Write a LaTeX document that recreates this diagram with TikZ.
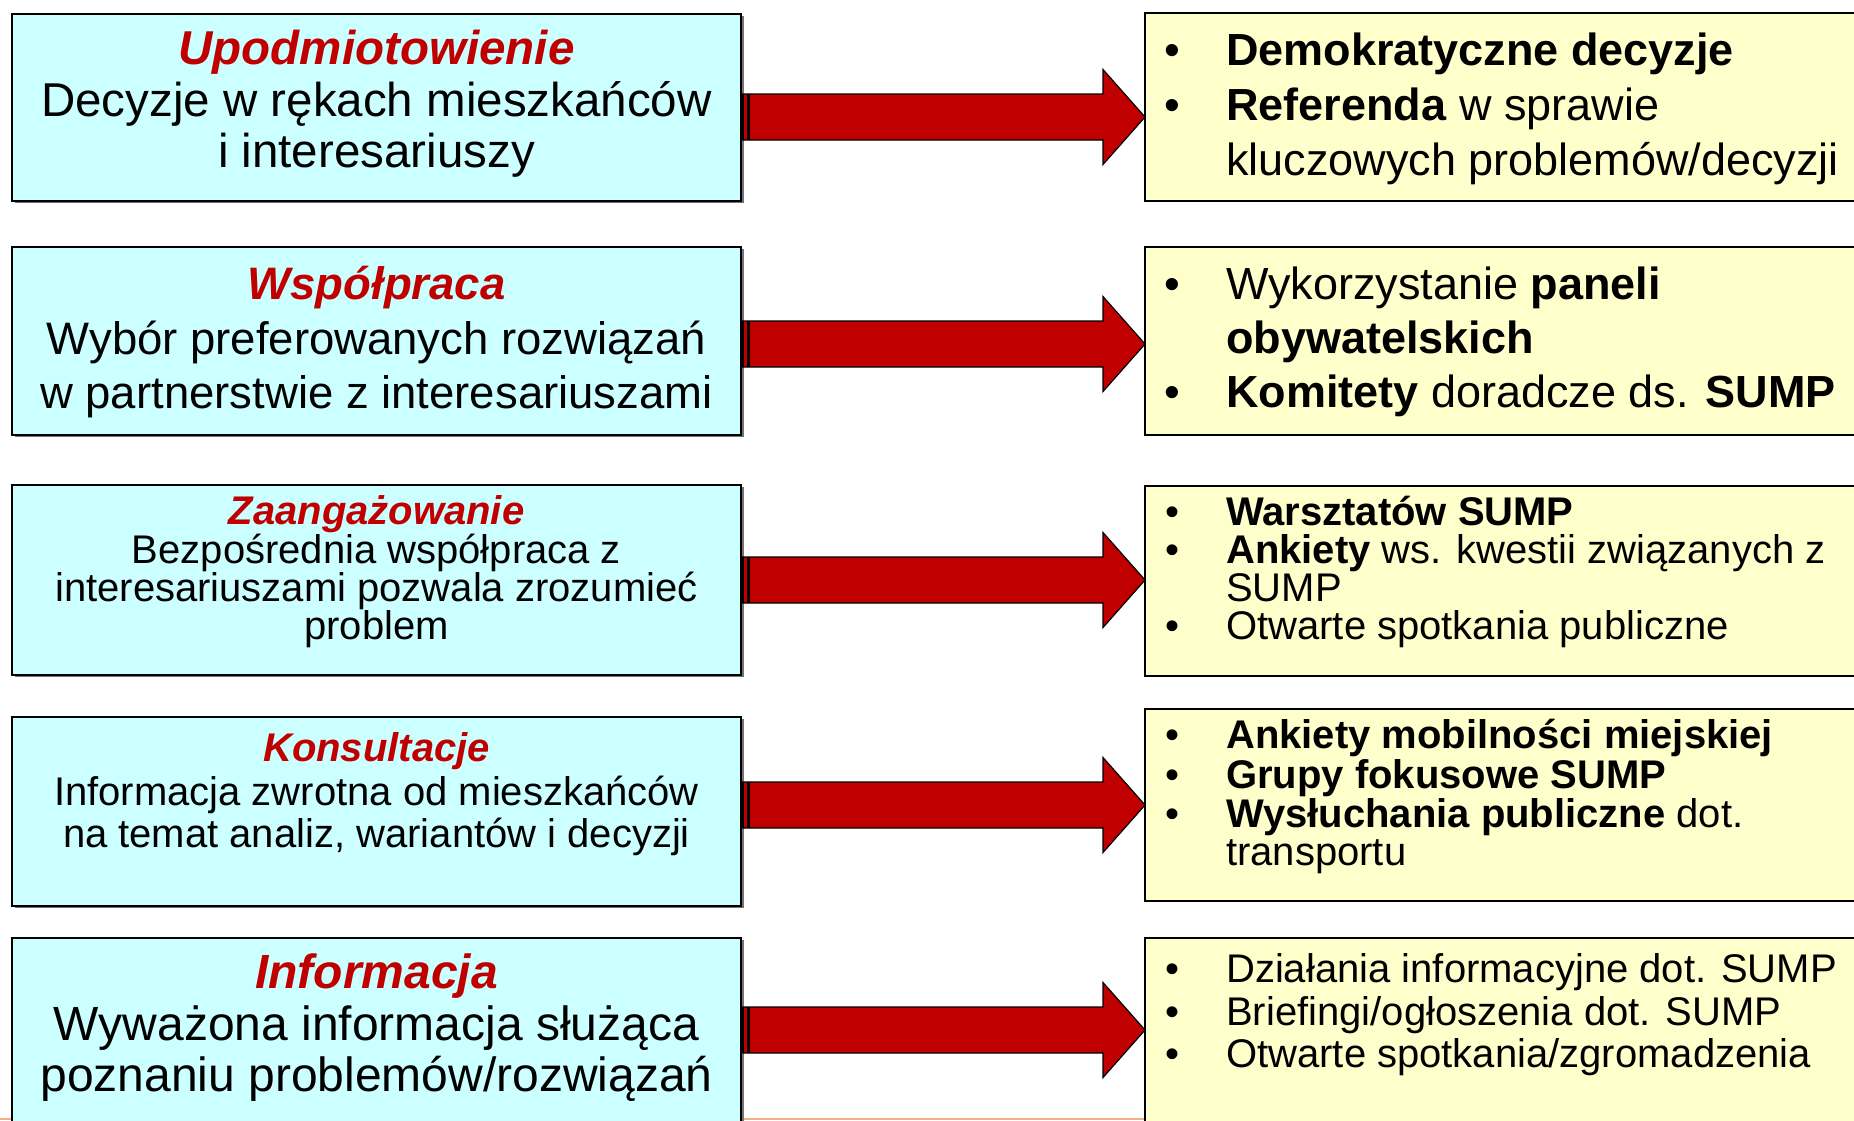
\documentclass[tikz,border=0pt]{standalone}
\usepackage{fontspec}
\setmainfont{Liberation Sans}
\usetikzlibrary{calc,shadows}
\definecolor{lcyan}{HTML}{CCFFFF}
\definecolor{lyellow}{HTML}{FFFFCC}
\definecolor{tred}{HTML}{C00000}
\definecolor{bline}{HTML}{F4B183}
\newcommand{\fsA}{\fontsize{47.5pt}{52pt}\selectfont}
\newcommand{\fsB}{\fontsize{45.5pt}{54pt}\selectfont}
\newcommand{\fsC}{\fontsize{40pt}{38pt}\selectfont}
\newcommand{\fsD}{\fontsize{48pt}{52pt}\selectfont}
\newcommand{\fsR}{\fontsize{45pt}{53pt}\selectfont}
\newcommand{\blkarrow}[2]{%
  \path[arrowbody] let \p1=(#1), \p2=(#2) in
    (\x1,\y1+23pt) -- (\x2-42pt,\y1+23pt) -- (\x2-42pt,\y1+47.5pt) -- (\x2,\y1)
    -- (\x2-42pt,\y1-47.5pt) -- (\x2-42pt,\y1-23pt) -- (\x1,\y1-23pt) -- cycle;
  \fill[black] let \p1=(#1) in (\x1,\y1-23pt) rectangle (\x1+3pt,\y1+23pt);
  \fill[black] let \p1=(#1) in (\x1+6pt,\y1-23pt) rectangle (\x1+9pt,\y1+23pt);
}
\tikzset{
  lbox/.style={draw=black, line width=2pt, fill=lcyan, inner sep=0pt, outer sep=0pt,
    drop shadow={shadow xshift=3pt, shadow yshift=-2pt, fill=black!55, opacity=1}},
  rbox/.style={draw=black, line width=2pt, fill=lyellow, inner sep=0pt, outer sep=0pt},
  ttl/.style={anchor=base, inner sep=0pt, text=tred, font=\bfseries\itshape},
  ctxt/.style={anchor=base, inner sep=0pt},
  bul/.style={anchor=base, inner sep=0pt},
  rtxt/.style={anchor=base west, inner sep=0pt},
  arrowbody/.style={fill=tred, draw=black, line width=1.2pt, line join=miter}
}
\begin{document}
\begin{tikzpicture}[x=1pt,y=-1pt]
\useasboundingbox (0,0) rectangle (1854,1120);
\fill[white] (0,0) rectangle (1854,1120);
\draw[bline, line width=2pt] (0,1119) -- (1854,1119);

% left boxes
\node[lbox, minimum width=729pt, minimum height=187pt] (l1) at (376.5,107.5) {};
\node[lbox, minimum width=729pt, minimum height=188pt] (l2) at (376.5,341) {};
\node[lbox, minimum width=729pt, minimum height=190pt] (l3) at (376.5,580) {};
\node[lbox, minimum width=729pt, minimum height=189pt] (l4) at (376.5,811.5) {};
\node[lbox, minimum width=729pt, minimum height=200pt] (l5) at (376.5,1038) {};

% right boxes
\node[rbox, minimum width=725pt, minimum height=188pt] (r1) at (1507.5,107) {};
\node[rbox, minimum width=725pt, minimum height=188pt] (r2) at (1507.5,341) {};
\node[rbox, minimum width=725pt, minimum height=190pt] (r3) at (1507.5,581) {};
\node[rbox, minimum width=725pt, minimum height=192pt] (r4) at (1507.5,805) {};
\node[rbox, minimum width=725pt, minimum height=200pt] (r5) at (1507.5,1038) {};

% arrows
\coordinate (a1s) at (l1.east |- 0,117);  \coordinate (a1e) at (r1.west |- 0,117);
\coordinate (a2s) at (l2.east |- 0,344);  \coordinate (a2e) at (r2.west |- 0,344);
\coordinate (a3s) at (l3.east |- 0,580);  \coordinate (a3e) at (r3.west |- 0,580);
\coordinate (a4s) at (l4.east |- 0,805);  \coordinate (a4e) at (r4.west |- 0,805);
\coordinate (a5s) at (l5.east |- 0,1030); \coordinate (a5e) at (r5.west |- 0,1030);
\blkarrow{a1s}{a1e}
\blkarrow{a2s}{a2e}
\blkarrow{a3s}{a3e}
\blkarrow{a4s}{a4e}
\blkarrow{a5s}{a5e}

% left texts
\node[ttl, font=\fsA\bfseries\itshape] (t1a) at (376.5,64) {Upodmiotowienie};
\node[ctxt, font=\fsA] (t1b) at (376.5,116) {Decyzje w rękach mieszkańców};
\node[ctxt, font=\fsA] (t1c) at (376.5,167) {i interesariuszy};

\node[ttl, font=\fsB\bfseries\itshape] (t2a) at (376.5,299) {Współpraca};
\node[ctxt, font=\fsB] (t2b) at (376.5,354) {Wybór preferowanych rozwiązań};
\node[ctxt, font=\fsB] (t2c) at (376.5,408) {w partnerstwie z interesariuszami};

\node[ttl, font=\fsC\bfseries\itshape] (t3a) at (376.5,524) {Zaangażowanie};
\node[ctxt, font=\fsC] (t3b) at (376.5,563) {Bezpośrednia współpraca z};
\node[ctxt, font=\fsC] (t3c) at (376.5,601) {interesariuszami pozwala zrozumieć};
\node[ctxt, font=\fsC] (t3d) at (376.5,639) {problem};

\node[ttl, font=\fsC\bfseries\itshape] (t4a) at (376.5,761) {Konsultacje};
\node[ctxt, font=\fsC] (t4b) at (376.5,805) {Informacja zwrotna od mieszkańców};
\node[ctxt, font=\fsC] (t4c) at (376.5,847) {na temat analiz, wariantów i decyzji};

\node[ttl, font=\fsD\bfseries\itshape] (t5a) at (376.5,988) {Informacja};
\node[ctxt, font=\fsD] (t5b) at (376.5,1040) {Wyważona informacja służąca};
\node[ctxt, font=\fsD] (t5c) at (376.5,1091) {poznaniu problemów/rozwiązań};

% right texts
\node[bul, font=\fsR] (b1a) at (1172,65) {•};
\node[rtxt, font=\fsR] (s1a) at (1226,65) {\textbf{Demokratyczne decyzje}};
\node[bul, font=\fsR] (b1b) at (1172,120.5) {•};
\node[rtxt, font=\fsR] (s1b) at (1226,120.5) {\textbf{Referenda} w sprawie};
\node[rtxt, font=\fsR] (s1c) at (1226,175) {kluczowych problemów/decyzji};

\node[bul, font=\fsR] (b2a) at (1172,299.5) {•};
\node[rtxt, font=\fsR] (s2a) at (1226,299.5) {Wykorzystanie \textbf{paneli}};
\node[rtxt, font=\fsR] (s2b) at (1226,353.5) {\textbf{obywatelskich}};
\node[bul, font=\fsR] (b2b) at (1172,407.5) {•};
\node[rtxt, font=\fsR] (s2c) at (1226,407.5) {\textbf{Komitety} doradcze ds. \textbf{SUMP}};

\node[bul, font=\fsC] (b3a) at (1172,525.5) {•};
\node[rtxt, font=\fsC] (s3a) at (1226,525.5) {\textbf{Warsztatów SUMP}};
\node[bul, font=\fsC] (b3b) at (1172,563.5) {•};
\node[rtxt, font=\fsC] (s3b) at (1226,563.5) {\textbf{Ankiety} ws. kwestii związanych z};
\node[rtxt, font=\fsC] (s3c) at (1226,601.5) {SUMP};
\node[bul, font=\fsC] (b3c) at (1172,639.5) {•};
\node[rtxt, font=\fsC] (s3d) at (1226,639.5) {Otwarte spotkania publiczne};

\node[bul, font=\fsC] (b4a) at (1172,748) {•};
\node[rtxt, font=\fsC] (s4a) at (1226,748) {\textbf{Ankiety mobilności miejskiej}};
\node[bul, font=\fsC] (b4b) at (1172,788) {•};
\node[rtxt, font=\fsC] (s4b) at (1226,788) {\textbf{Grupy fokusowe SUMP}};
\node[bul, font=\fsC] (b4c) at (1172,827) {•};
\node[rtxt, font=\fsC] (s4c) at (1226,827) {\textbf{Wysłuchania publiczne} dot.};
\node[rtxt, font=\fsC] (s4d) at (1226,865) {transportu};

\node[bul, font=\fsC] (b5a) at (1172,982) {•};
\node[rtxt, font=\fsC] (s5a) at (1226,982) {Działania informacyjne dot. SUMP};
\node[bul, font=\fsC] (b5b) at (1172,1025) {•};
\node[rtxt, font=\fsC] (s5b) at (1226,1025) {Briefingi/ogłoszenia dot. SUMP};
\node[bul, font=\fsC] (b5c) at (1172,1067) {•};
\node[rtxt, font=\fsC] (s5c) at (1226,1067) {Otwarte spotkania/zgromadzenia};
\end{tikzpicture}
\end{document}
